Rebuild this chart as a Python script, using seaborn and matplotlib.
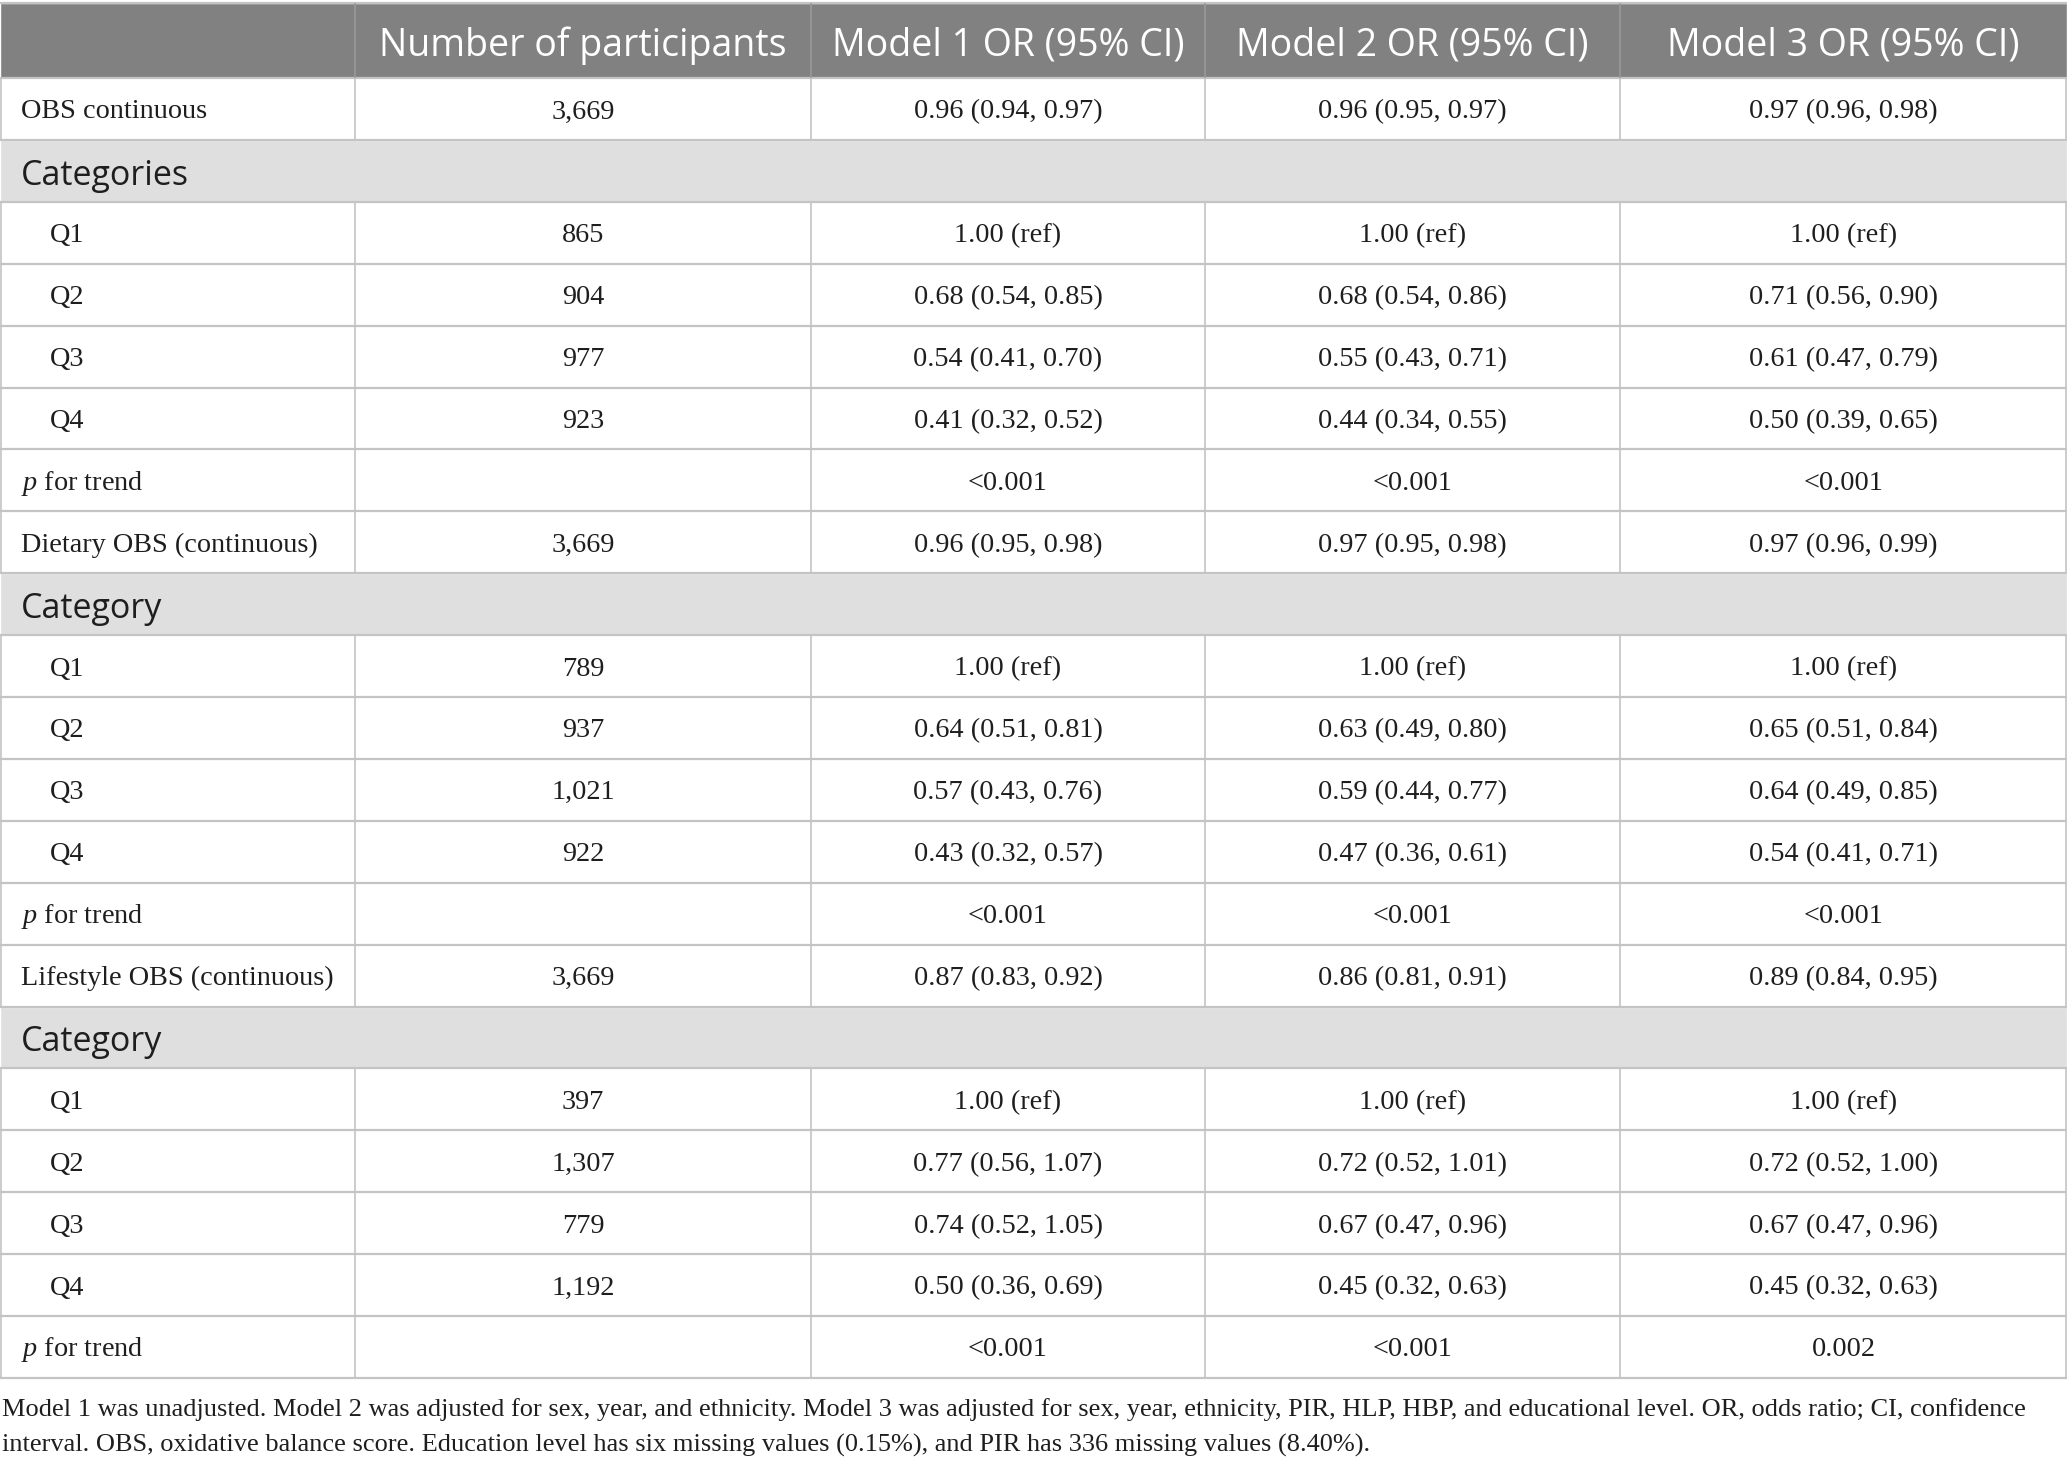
import matplotlib.pyplot as plt
import seaborn as sns

# ---- table content -------------------------------------------------------
header = ["", "Number of participants", "Model 1 OR (95% CI)",
          "Model 2 OR (95% CI)", "Model 3 OR (95% CI)"]

row_labels = [
    "OBS continuous", "Categories", "Q1", "Q2", "Q3", "Q4", "p for trend",
    "Dietary OBS (continuous)", "Category", "Q1", "Q2", "Q3", "Q4", "p for trend",
    "Lifestyle OBS (continuous)", "Category", "Q1", "Q2", "Q3", "Q4", "p for trend",
]
row_kind = [
    "main", "section", "sub", "sub", "sub", "sub", "main",
    "main", "section", "sub", "sub", "sub", "sub", "main",
    "main", "section", "sub", "sub", "sub", "sub", "main",
]
participants = [
    "3,669", "", "865", "904", "977", "923", "",
    "3,669", "", "789", "937", "1,021", "922", "",
    "3,669", "", "397", "1,307", "779", "1,192", "",
]
model1 = [
    "0.96 (0.94, 0.97)", "", "1.00 (ref)", "0.68 (0.54, 0.85)", "0.54 (0.41, 0.70)",
    "0.41 (0.32, 0.52)", "<0.001",
    "0.96 (0.95, 0.98)", "", "1.00 (ref)", "0.64 (0.51, 0.81)", "0.57 (0.43, 0.76)",
    "0.43 (0.32, 0.57)", "<0.001",
    "0.87 (0.83, 0.92)", "", "1.00 (ref)", "0.77 (0.56, 1.07)", "0.74 (0.52, 1.05)",
    "0.50 (0.36, 0.69)", "<0.001",
]
model2 = [
    "0.96 (0.95, 0.97)", "", "1.00 (ref)", "0.68 (0.54, 0.86)", "0.55 (0.43, 0.71)",
    "0.44 (0.34, 0.55)", "<0.001",
    "0.97 (0.95, 0.98)", "", "1.00 (ref)", "0.63 (0.49, 0.80)", "0.59 (0.44, 0.77)",
    "0.47 (0.36, 0.61)", "<0.001",
    "0.86 (0.81, 0.91)", "", "1.00 (ref)", "0.72 (0.52, 1.01)", "0.67 (0.47, 0.96)",
    "0.45 (0.32, 0.63)", "<0.001",
]
model3 = [
    "0.97 (0.96, 0.98)", "", "1.00 (ref)", "0.71 (0.56, 0.90)", "0.61 (0.47, 0.79)",
    "0.50 (0.39, 0.65)", "<0.001",
    "0.97 (0.96, 0.99)", "", "1.00 (ref)", "0.65 (0.51, 0.84)", "0.64 (0.49, 0.85)",
    "0.54 (0.41, 0.71)", "<0.001",
    "0.89 (0.84, 0.95)", "", "1.00 (ref)", "0.72 (0.52, 1.00)", "0.67 (0.47, 0.96)",
    "0.45 (0.32, 0.63)", "0.002",
]
footnote = [
    "Model 1 was unadjusted. Model 2 was adjusted for sex, year, and ethnicity. "
    "Model 3 was adjusted for sex, year, ethnicity, PIR, HLP, HBP, and educational level. "
    "OR, odds ratio; CI, confidence",
    "interval. OBS, oxidative balance score. Education level has six missing values (0.15%), "
    "and PIR has 336 missing values (8.40%).",
]

# ---- layout (pixel units of the output image) ------------------------------
W, H = 2067, 1471
col_edges = [0, 355, 811, 1205, 1620, W]
top = 3
header_h = 75
row_h = 61.9

sns.set_theme(style="white")
plt.rcParams["mathtext.fontset"] = "custom"
plt.rcParams["mathtext.rm"] = "Liberation Serif"
plt.rcParams["mathtext.it"] = "Liberation Serif:italic"

SERIF = "Liberation Serif"
SANS = "Open Sans"
HEAD_BG = "#818181"
SECT_BG = "#e0dfe0"
LINE = "#c4c4c4"
TXT = "#1e1e1e"

fig = plt.figure(figsize=(W / 100, H / 100), dpi=100)
ax = fig.add_axes([0, 0, 1, 1])
ax.set_xlim(0, W)
ax.set_ylim(H, 0)
ax.axis("off")

n = len(row_labels)
row_top = [top + header_h + i * row_h for i in range(n)]
row_mid = [t + row_h / 2 for t in row_top]
table_bottom = row_top[-1] + row_h

# backgrounds
ax.barh([top + header_h / 2], [W], height=header_h, left=0, color=HEAD_BG, zorder=0)
bg = [SECT_BG if k == "section" else "white" for k in row_kind]
ax.barh(row_mid, [W] * n, height=row_h, left=0, color=bg, zorder=0)

# horizontal rules
ax.hlines([top] + row_top + [table_bottom], 0, W, color=LINE, lw=1.6, zorder=2)

# vertical rules (header lighter, skip section rows)
for x in col_edges[1:-1]:
    ax.vlines(x, top, top + header_h, color="#9a9a9a", lw=1.2, zorder=2)
for t, k in zip(row_top, row_kind):
    if k != "section":
        ax.vlines(col_edges[1:-1], t, t + row_h, color=LINE, lw=1.2, zorder=2)
        ax.vlines([1, W - 1], t, t + row_h, color=LINE, lw=1.2, zorder=2)

# header text
centers = [(a + b) / 2 for a, b in zip(col_edges[:-1], col_edges[1:])]
for c, h in zip(centers[1:], header[1:]):
    ax.text(c, top + header_h / 2 + 5, h, ha="center", va="center",
            family=SANS, fontsize=27, color="white", zorder=3)

# body text
for i in range(n):
    y = row_mid[i]
    lab, kind = row_labels[i], row_kind[i]
    if kind == "section":
        ax.text(21, y + 5, lab, ha="left", va="center", family=SANS,
                fontsize=24.5, color=TXT, zorder=3)
        continue
    x0 = 50 if kind == "sub" else 21
    if lab.startswith("p "):
        lab = r"$\it{p}$" + lab[1:]
    ax.text(x0, y + 3, lab, ha="left", va="center", family=SERIF,
            fontsize=20.3, color=TXT, zorder=3)
    for c, v in zip(centers[1:], [participants[i], model1[i], model2[i], model3[i]]):
        if v:
            ax.text(c, y + 3, v, ha="center", va="center", family=SERIF,
                    fontsize=20.3, color=TXT, zorder=3)

# footnote
for j, line in enumerate(footnote):
    ax.text(2, 1410 + j * 35.5, line, ha="left", va="center", family=SERIF,
            fontsize=19, color=TXT)

fig.savefig("out.png", dpi=100)
